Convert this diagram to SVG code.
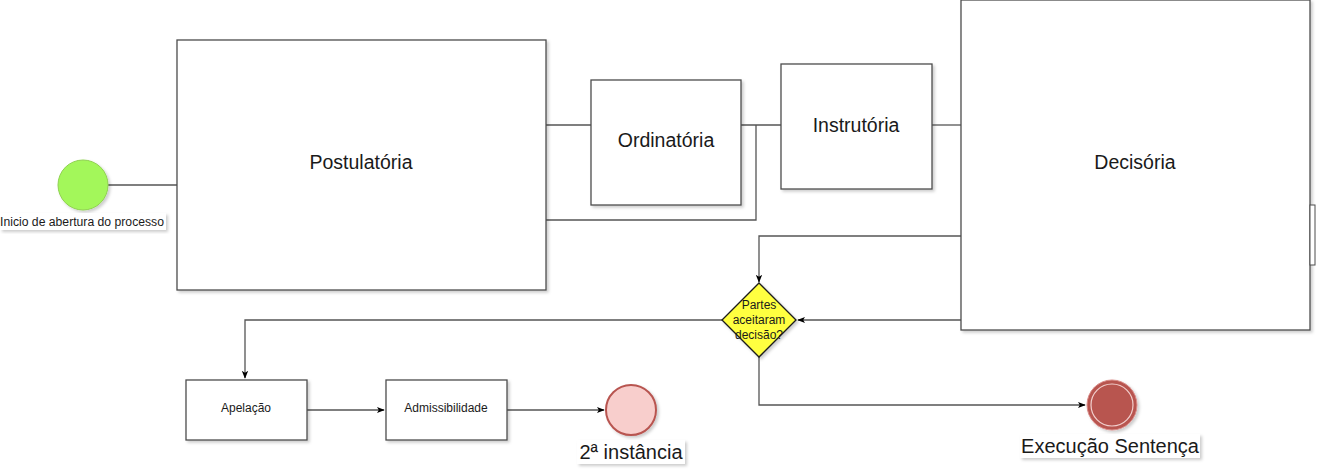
<svg xmlns="http://www.w3.org/2000/svg" width="1324" height="471" viewBox="0 0 1324 471">
<defs>
<filter id="sh" x="-10%" y="-10%" width="130%" height="130%">
<feDropShadow dx="2" dy="2" stdDeviation="1.5" flood-color="#000" flood-opacity="0.2"/>
</filter>
<marker id="arr" viewBox="0 0 10 10" refX="9" refY="5" markerWidth="8" markerHeight="8" markerUnits="userSpaceOnUse" orient="auto">
<path d="M0,1 L10,5 L0,9 L2.5,5 Z" fill="#000"/>
</marker>
</defs>
<style>
.box{fill:#fff;stroke:#4d4d4d;stroke-width:1.3;filter:url(#sh)}
.ln{fill:none;stroke:#555;stroke-width:1.3}
.t{font-family:"Liberation Sans",Arial,sans-serif;fill:#1a1a1a;text-anchor:middle}
.lbg{fill:#fff;filter:url(#sh)}
</style>
<rect width="1324" height="471" fill="#fff"/>
<g id="connectors">
<path class="ln" d="M108,185 H177"/>
<path class="ln" d="M546,125 H591"/>
<path class="ln" d="M546,220 H756 V125"/>
<path class="ln" d="M741,125 H781"/>
<path class="ln" d="M932,125 H961"/>
<path class="ln" d="M961,236 H759 V282" marker-end="url(#arr)"/>
<path class="ln" d="M961,320 H798" marker-end="url(#arr)"/>
<path class="ln" d="M722,320 H245 V378" marker-end="url(#arr)"/>
<path class="ln" d="M307,410 H384" marker-end="url(#arr)"/>
<path class="ln" d="M507,410 H604" marker-end="url(#arr)"/>
<path class="ln" d="M759,357 V405 H1085" marker-end="url(#arr)"/>
</g>
<g id="inicio">
<circle cx="83" cy="185" r="25" fill="#a3f75a" stroke="#8fd150" stroke-width="1" filter="url(#sh)"/>
<rect class="lbg" x="0" y="213" width="166" height="17"/>
<text class="t" x="82" y="226" font-size="12" textLength="164" lengthAdjust="spacingAndGlyphs">Inicio de abertura do processo</text>
</g>
<g id="postulatoria">
<rect class="box" x="177" y="40" width="369" height="250"/>
<text class="t" x="361" y="169" font-size="19.5">Postulatória</text>
</g>
<g id="ordinatoria">
<rect class="box" x="591" y="80" width="150" height="125"/>
<text class="t" x="666" y="147" font-size="19.5">Ordinatória</text>
</g>
<g id="instrutoria">
<rect class="box" x="781" y="64" width="151" height="125"/>
<text class="t" x="856" y="132" font-size="19.5">Instrutória</text>
</g>
<g id="decisoria">
<rect class="box" x="961" y="0" width="349" height="330"/>
<rect x="1310" y="205" width="5" height="60" fill="#fff" stroke="#4d4d4d" stroke-width="1"/>
<text class="t" x="1135" y="169" font-size="19.5">Decisória</text>
</g>
<g id="decisao">
<path d="M759,283 L796,320 L759,357 L722,320 Z" fill="#ffff40" stroke="#1a1a1a" stroke-width="1.3" filter="url(#sh)"/>
<text class="t" font-size="12" fill="#333"><tspan x="759" y="309">Partes</tspan><tspan x="759" y="324">aceitaram</tspan><tspan x="759" y="339">decisão?</tspan></text>
</g>
<g id="apelacao">
<rect class="box" x="186" y="380" width="121" height="60"/>
<text class="t" x="246" y="412" font-size="12">Apelação</text>
</g>
<g id="admissibilidade">
<rect class="box" x="386" y="380" width="121" height="60"/>
<text class="t" x="446" y="412" font-size="12">Admissibilidade</text>
</g>
<g id="segunda-instancia">
<circle cx="631" cy="410" r="25" fill="#f8cecc" stroke="#b85450" stroke-width="2" filter="url(#sh)"/>
<rect class="lbg" x="577" y="440" width="108" height="24"/>
<text class="t" x="631" y="459" font-size="20">2ª instância</text>
</g>
<g id="execucao">
<circle cx="1112" cy="405" r="25" fill="#b85450" stroke="#d98c88" stroke-width="1" filter="url(#sh)"/>
<circle cx="1112" cy="405" r="21" fill="none" stroke="#f2d0ce" stroke-width="1.2"/>
<rect class="lbg" x="1020" y="434" width="180" height="24"/>
<text class="t" x="1110" y="453" font-size="20">Execução Sentença</text>
</g>
</svg>
